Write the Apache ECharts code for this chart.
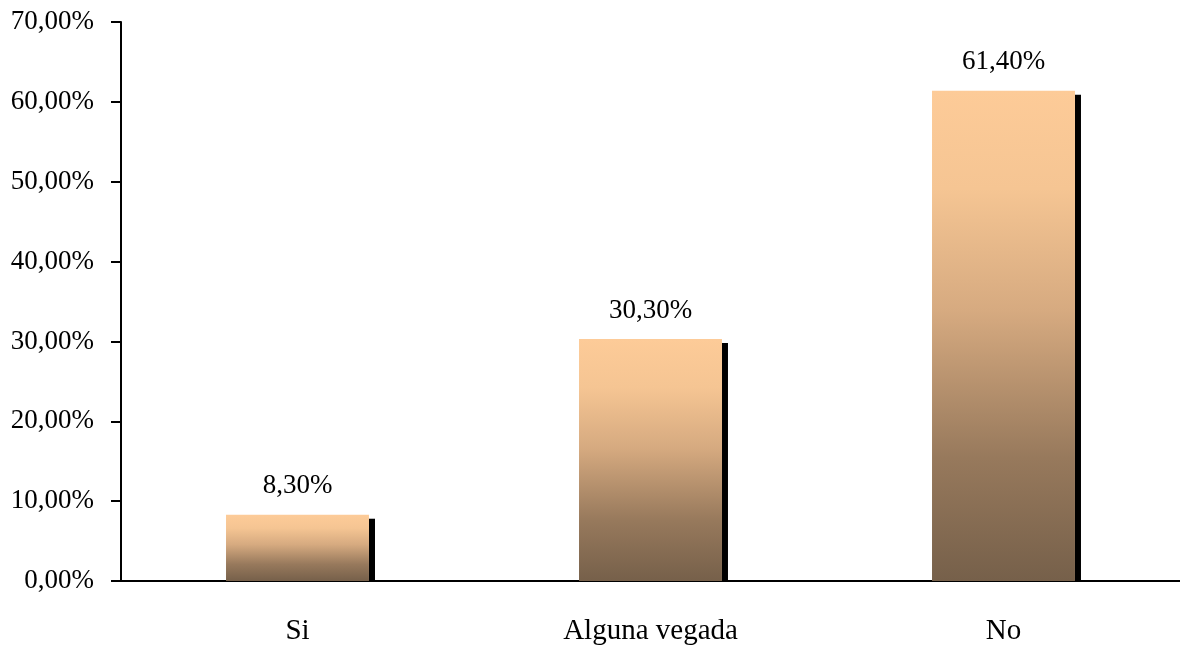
<!DOCTYPE html>
<html>
<head>
<meta charset="utf-8">
<script src="https://cdn.jsdelivr.net/npm/echarts@6/dist/echarts.min.js"></script>
<style>
    html, body { margin: 0; padding: 0; background: #fff; }
    #chart { width: 1180px; height: 648px; }
</style>
</head>
<body>
<div id="chart"></div>
<script>
    // categories and values (percent)
    var categories = ['Si', 'Alguna vegada', 'No']
    var values = [8.3, 30.3, 61.4]
    var yTicks = [0, 10, 20, 30, 40, 50, 60, 70]

    var font = '"Liberation Serif", "Times New Roman", serif'
    var fmt = function (v) {
        return v.toFixed(2).replace('.', ',') + '%'
    }
    var barRatio = 0.405

    var myChart = echarts.init(document.getElementById('chart'))
    myChart.setOption({
        animation: false,
        grid: { left: 121, right: 0, top: 22, bottom: 67 },
        xAxis: {
            type: 'category',
            data: categories,
            axisLine: { lineStyle: { color: '#000', width: 2 } },
            axisTick: { length: 10, lineStyle: { color: '#000', width: 1.5 } },
            axisLabel: { color: '#000', fontFamily: font, fontSize: 29, margin: 36 }
        },
        yAxis: {
            type: 'value',
            min: yTicks[0],
            max: yTicks[yTicks.length - 1],
            interval: 10,
            splitLine: { show: false },
            axisLine: { show: true, lineStyle: { color: '#000', width: 2 } },
            axisTick: { show: true, length: 10, lineStyle: { color: '#000', width: 2 } },
            axisLabel: {
                color: '#000', fontFamily: font, fontSize: 27, margin: 27,
                formatter: function (v) { return fmt(v) }
            }
        },
        series: [
            {
                // black drop shadow on the right side of each bar
                type: 'custom',
                data: values.map(function (v, i) { return [i, v] }),
                z: 1,
                renderItem: function (params, api) {
                    var top = api.coord([api.value(0), api.value(1)])
                    var base = api.coord([api.value(0), 0])
                    var w = api.size([1, 0])[0] * barRatio
                    return {
                        type: 'rect',
                        shape: { x: top[0] + w / 2, y: top[1] + 4, width: 6, height: base[1] - top[1] - 4 },
                        style: { fill: '#000' }
                    }
                }
            },
            {
                type: 'bar',
                data: values,
                z: 2,
                barWidth: (barRatio * 100) + '%',
                itemStyle: {
                    color: new echarts.graphic.LinearGradient(0, 0, 0, 1, [
                        { offset: 0, color: '#fdcb98' },
                        { offset: 0.2, color: '#f5c593' },
                        { offset: 0.45, color: '#d6aa80' },
                        { offset: 0.75, color: '#97795c' },
                        { offset: 1, color: '#76604a' }
                    ])
                },
                label: {
                    show: true,
                    position: 'top',
                    distance: 15,
                    color: '#000',
                    fontFamily: font,
                    fontSize: 27,
                    formatter: function (p) { return fmt(p.value) }
                }
            }
        ]
    })
    window.onresize = myChart.resize
</script>
</body>
</html>
